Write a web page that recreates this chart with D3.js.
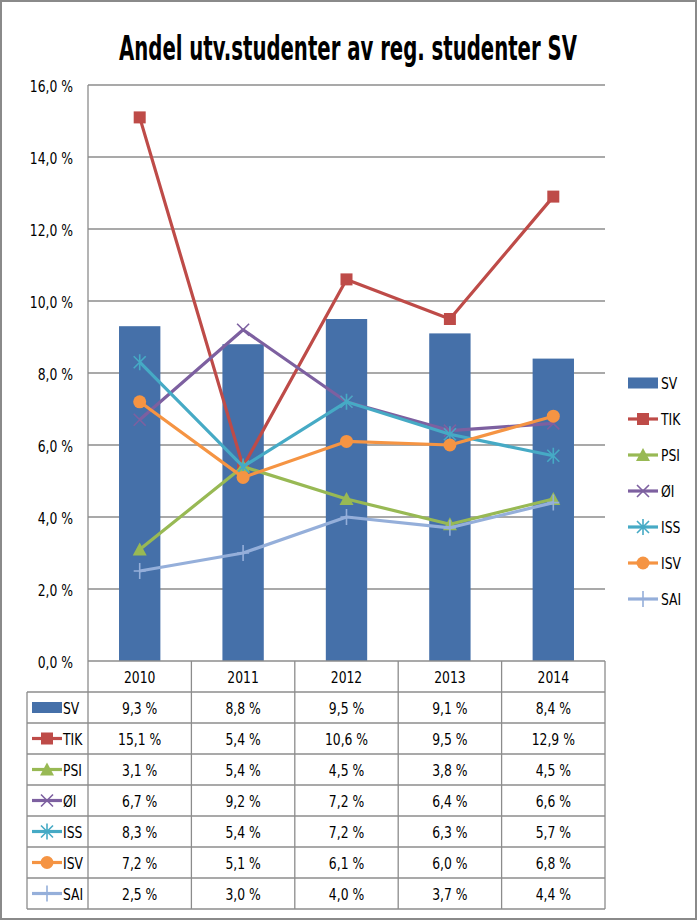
<!DOCTYPE html>
<html><head><meta charset="utf-8">
<script src="https://cdn.jsdelivr.net/npm/d3@7"></script>
<style>
body{margin:0;background:#fff;}
svg text{font-family:"Liberation Sans Narrow","Arial Narrow","DejaVu Sans Condensed",sans-serif;}
</style></head><body>
<svg id="c" width="697" height="921"></svg>
<script>
const years = ["2010","2011","2012","2013","2014"];
const SV  = [9.3, 8.8, 9.5, 9.1, 8.4];
const TIK = [15.1, 5.4, 10.6, 9.5, 12.9];
const PSI = [3.1, 5.4, 4.5, 3.8, 4.5];
const OI  = [6.7, 9.2, 7.2, 6.4, 6.6];
const ISS = [8.3, 5.4, 7.2, 6.3, 5.7];
const ISV = [7.2, 5.1, 6.1, 6.0, 6.8];
const SAI = [2.5, 3.0, 4.0, 3.7, 4.4];
const yTicks = [0,2,4,6,8,10,12,14,16];
const title = "Andel utv.studenter av reg. studenter SV";

const series = [
  {name:"SV", values:SV, color:"#4570A9", type:"bar"},
  {name:"TIK", values:TIK, color:"#BE4B48", type:"line", marker:"square"},
  {name:"PSI", values:PSI, color:"#98B954", type:"line", marker:"triangle"},
  {name:"ØI", values:OI, color:"#7D60A0", type:"line", marker:"x"},
  {name:"ISS", values:ISS, color:"#46AAC5", type:"line", marker:"star"},
  {name:"ISV", values:ISV, color:"#F59443", type:"line", marker:"circle"},
  {name:"SAI", values:SAI, color:"#95AFDA", type:"line", marker:"plus"}
];

const svg = d3.select("#c");
const fmt = v => d3.format(".1f")(v).replace(".", ",") + " %";
const FS = 16, SX = 0.86;

function txt(g, x, y, str, anchor, size, sx, bold){
  const t = g.append("text").attr("transform",`translate(${x},${y}) scale(${sx||SX},1)`)
    .attr("text-anchor",anchor||"start").attr("font-size",size||FS).attr("fill","#000").text(str);
  if(bold) t.attr("font-weight","bold");
  return t;
}

// outer frame
svg.append("rect").attr("x",1).attr("y",1).attr("width",695).attr("height",918)
  .attr("fill","#fff").attr("stroke","#8a8a8a").attr("stroke-width",2);

// title scaled to reference width
const tt = svg.append("text").attr("font-size",34).attr("font-weight","bold").attr("text-anchor","middle").text(title);
const tw = tt.node().getComputedTextLength();
tt.attr("transform",`translate(348,60) scale(${458/tw},1)`).attr("fill","#000");

const L=88, R=605, T=85, B=661;
const x = d3.scaleBand().domain(years).range([L,R]);
const y = d3.scaleLinear().domain([0,16]).range([B,T]);

// gridlines
svg.append("g").selectAll("line").data(yTicks.filter(d=>d>0)).join("line")
  .attr("x1",L).attr("x2",R).attr("y1",d=>y(d)).attr("y2",d=>y(d))
  .attr("stroke","#8c8c8c").attr("stroke-width",1.3);

// y axis (ticks via d3 axis, labels redrawn condensed)
const ya = svg.append("g").attr("transform",`translate(${L},0)`)
  .call(d3.axisLeft(y).tickValues(yTicks).tickFormat(fmt).tickSize(0).tickPadding(15));
ya.select(".domain").remove();
ya.selectAll(".tick text").each(function(d){
  const sel = d3.select(this);
  sel.attr("x",null).attr("dy",null).attr("font-size",FS).attr("fill","#000")
     .attr("font-family",'"Liberation Sans Narrow","Arial Narrow","DejaVu Sans Condensed",sans-serif')
     .attr("transform",`translate(-15,6) scale(${SX},1)`);
});

// bars
const bw = x.bandwidth()*0.4;
svg.append("g").selectAll("rect").data(SV).join("rect")
  .attr("x",(d,i)=>x(years[i])+x.bandwidth()/2-bw/2).attr("width",bw)
  .attr("y",d=>y(d)).attr("height",d=>B-y(d)).attr("fill",series[0].color);

function marker(g, type, color){
  if(type==="square") g.append("rect").attr("x",-6).attr("y",-6).attr("width",12).attr("height",12).attr("fill",color);
  else if(type==="triangle") g.append("path").attr("d",`M0,-7L7,6L-7,6Z`).attr("fill",color);
  else if(type==="circle") g.append("circle").attr("r",6.5).attr("fill",color);
  else if(type==="x") g.append("path").attr("d",`M-6,-6L6,6M-6,6L6,-6`).attr("stroke",color).attr("stroke-width",1.6).attr("fill","none");
  else if(type==="star") g.append("path").attr("d",`M-6,-6L6,6M-6,6L6,-6M0,-8L0,8`).attr("stroke",color).attr("stroke-width",1.6).attr("fill","none");
  else if(type==="plus") g.append("path").attr("d",`M0,-8L0,8M-6,0L6,0`).attr("stroke",color).attr("stroke-width",1.6).attr("fill","none");
}

const cx = i => x(years[i]) + x.bandwidth()/2;
const line = d3.line().x((d,i)=>cx(i)).y(d=>y(d));
series.filter(s=>s.type==="line").forEach(s=>{
  const g = svg.append("g");
  g.append("path").datum(s.values).attr("d",line).attr("fill","none")
    .attr("stroke",s.color).attr("stroke-width",3.2).attr("stroke-linejoin","round");
  s.values.forEach((v,i)=>{
    const m = g.append("g").attr("transform",`translate(${cx(i)},${y(v)})`);
    marker(m, s.marker, s.color);
  });
});

// data table
const rowH = 31, hdrB = 692, tblL = 27;
const tbl = svg.append("g");
const tc = "#8c8c8c";
tbl.append("line").attr("x1",L).attr("x2",R).attr("y1",B).attr("y2",B).attr("stroke",tc).attr("stroke-width",1.3);
for(let r=0;r<=series.length;r++){
  const yy = hdrB + r*rowH;
  tbl.append("line").attr("x1",tblL).attr("x2",R).attr("y1",yy).attr("y2",yy).attr("stroke",tc).attr("stroke-width",1.3);
}
const tblBot = hdrB + series.length*rowH;
tbl.append("line").attr("x1",tblL).attr("x2",tblL).attr("y1",hdrB).attr("y2",tblBot).attr("stroke",tc).attr("stroke-width",1.3);
tbl.append("line").attr("x1",L).attr("x2",L).attr("y1",T).attr("y2",tblBot).attr("stroke",tc).attr("stroke-width",1.3);
years.forEach(yr=>{
  const xx = x(yr)+x.bandwidth();
  tbl.append("line").attr("x1",xx).attr("x2",xx).attr("y1",B).attr("y2",tblBot).attr("stroke",tc).attr("stroke-width",1.3);
});
years.forEach(yr=> txt(tbl, x(yr)+x.bandwidth()/2, B+rowH/2+6, yr, "middle"));

function legendKey(g, s){
  if(s.type==="bar") g.append("rect").attr("x",0).attr("y",-5.5).attr("width",30).attr("height",11).attr("fill",s.color);
  else {
    g.append("line").attr("x1",0).attr("x2",30).attr("y1",0).attr("y2",0).attr("stroke",s.color).attr("stroke-width",3.2);
    const m = g.append("g").attr("transform","translate(15,0)");
    marker(m, s.marker, s.color);
  }
}

series.forEach((s,r)=>{
  const yc = hdrB + r*rowH + rowH/2;
  const k = tbl.append("g").attr("transform",`translate(32,${yc})`);
  legendKey(k,s);
  txt(tbl, 63, yc+6, s.name, "start");
  s.values.forEach((v,i)=> txt(tbl, cx(i), yc+6, fmt(v), "middle"));
});

// right legend
series.forEach((s,r)=>{
  const yc = 383 + r*36;
  const k = svg.append("g").attr("transform",`translate(628,${yc})`);
  legendKey(k,s);
  txt(svg, 661, yc+6, s.name, "start");
});
</script>
</body></html>
